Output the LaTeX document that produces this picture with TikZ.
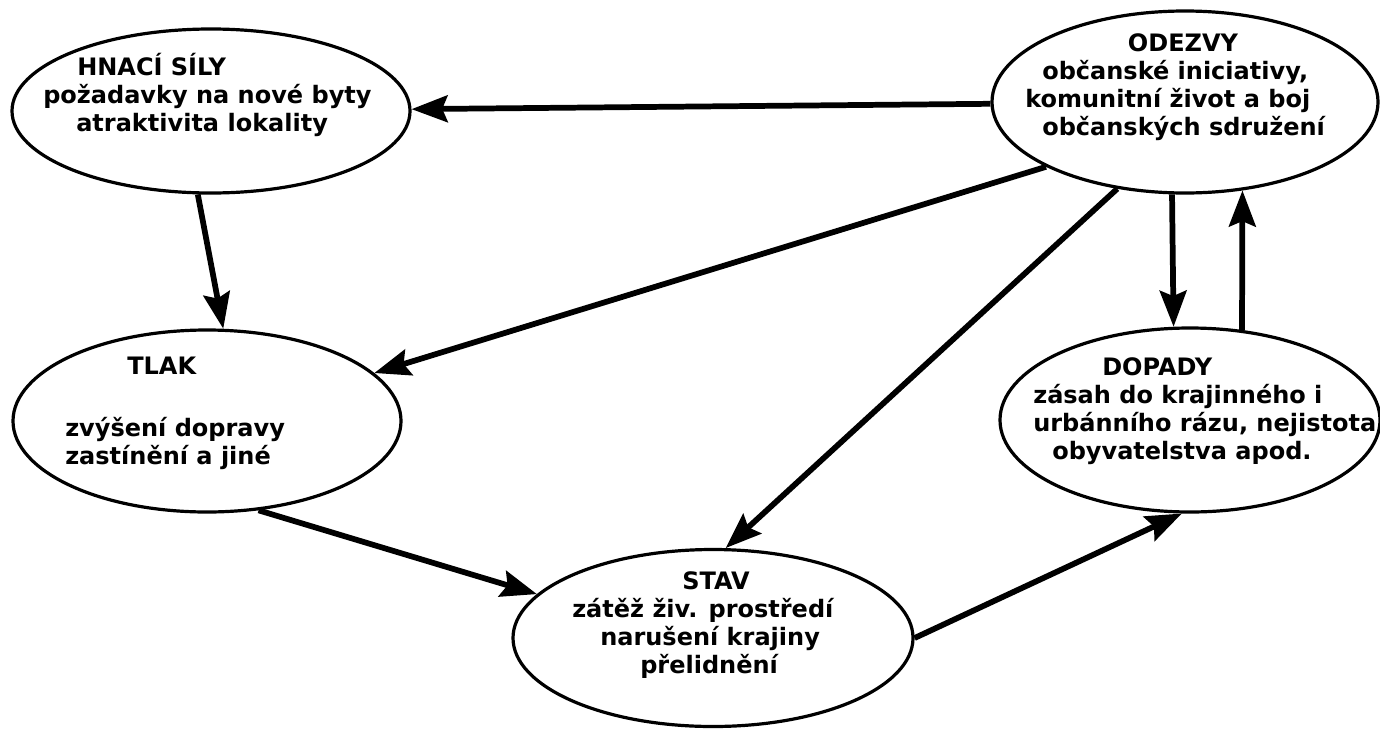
\documentclass[tikz,border=0pt]{standalone}
\usepackage{fontspec}
\setmainfont{DejaVu Sans}
\usepackage{tikz}
\usetikzlibrary{arrows.meta,shapes.geometric}
\tikzset{
  blob/.style = {draw,ellipse,line width=2.4pt,inner sep=0pt,fill=white},
  lbl/.style  = {anchor=base west,align=left,inner sep=0pt,font=\fontsize{18}{21}\selectfont\bfseries},
  flow/.style = {-{Stealth[length=27pt,width=20pt,inset=4pt]},line width=4.3pt}
}

\begin{document}
\begin{tikzpicture}[x=0.75pt,y=-0.75pt]
  \useasboundingbox (0,0) rectangle (1380,728);
  \node[blob,minimum width=298.5pt,minimum height=123pt]  (hnaci)  at (211,111) {};
  \node[blob,minimum width=289.5pt,minimum height=136.5pt] (odezvy) at (1185,102) {};
  \node[blob,minimum width=291pt,minimum height=136.5pt]   (tlak)   at (207,421) {};
  \node[blob,minimum width=285pt,minimum height=138pt]     (dopady) at (1190,420) {};
  \node[blob,minimum width=300pt,minimum height=132.75pt]  (stav)   at (713,638) {};
  \node[lbl] (hnacitxt)  at (43,131)   {\hspace*{25.5pt}HNACÍ SÍLY\\požadavky na nové byty\\\hspace*{24.75pt}atraktivita lokality};
  \node[lbl] (odezvytxt) at (1025,135) {\hspace*{77pt}ODEZVY\\\hspace*{12.75pt}občanské iniciativy,\\komunitní život a boj\\\hspace*{12.75pt}občanských sdružení};
  \node[lbl] (tlaktxt)   at (65,464)   {\hspace*{46.5pt}TLAK\\[25pt]zvýšení dopravy\\zastínění a jiné};
  \node[lbl] (dopadytxt) at (1033,459) {\hspace*{51.75pt}DOPADY\\zásah do krajinného i\\urbánního rázu, nejistota\\\hspace*{14.25pt}obyvatelstva apod.};
  \node[lbl] (stavtxt)   at (572,673)  {\hspace*{82.5pt}STAV\\zátěž živ. prostředí\\\hspace*{21pt}narušení krajiny\\\hspace*{51pt}přelidnění};
  \draw[flow] (odezvy) -- (hnaci);
  \draw[flow] (hnaci.261) -- (tlak.80);
  \draw[flow] (odezvy.205) -- (tlak.16);
  \draw[flow] (odezvy.232) -- (stav.82);
  \draw[flow] (odezvy.262) -- (dopady.100);
  \draw[flow] (dopady.60) -- (odezvy.303);
  \draw[flow] (tlak.300) -- (stav.166);
  \draw[flow] (stav.east) -- (dopady.265);
\end{tikzpicture}
\end{document}
